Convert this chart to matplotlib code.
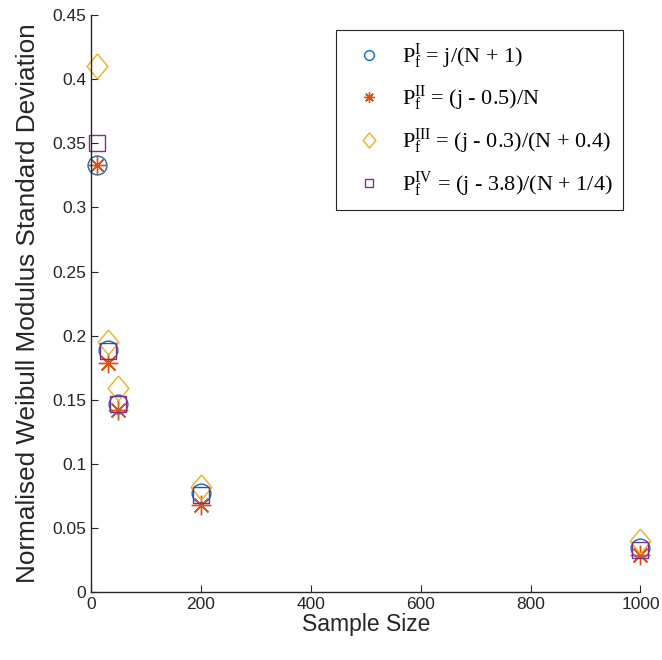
import numpy as np
import matplotlib
matplotlib.use('Agg')
from matplotlib import pyplot as plt

plt.rcParams['font.family'] = ['Liberation Sans', 'DejaVu Sans']
plt.rcParams['mathtext.fontset'] = 'custom'
plt.rcParams['mathtext.rm'] = 'Liberation Serif'
plt.rcParams['mathtext.it'] = 'Liberation Serif:italic'

# sample sizes and normalised std of the Weibull modulus per estimator
sample_size = [10, 30, 50, 200, 1000]
std_I = [0.333, 0.189, 0.147, 0.077, 0.034]
std_II = [0.333, 0.179, 0.142, 0.068, 0.029]
std_III = [0.410, 0.195, 0.159, 0.082, 0.040]
std_IV = [0.350, 0.188, 0.147, 0.076, 0.033]

labels = [r'$\mathrm{P_f^{I}}$ = j/(N + 1)',
          r'$\mathrm{P_f^{II}}$ = (j - 0.5)/N',
          r'$\mathrm{P_f^{III}}$ = (j - 0.3)/(N + 0.4)',
          r'$\mathrm{P_f^{IV}}$ = (j - 3.8)/(N + 1/4)']

# matlab style diamond (a bit taller than wide)
diamond = [(0, 1), (0.83, 0), (0, -1), (-0.83, 0), (0, 1)]

fig = plt.figure(figsize=(6.62, 6.60), dpi=100)
ax = fig.add_axes([0.1375, 0.103, 0.83, 0.874])

ax.plot(sample_size, std_I, 'o', mfc='none', mec='#0072BD', ms=13.5, mew=1.0, label=labels[0], clip_on=False)
ax.plot(sample_size, std_II, marker=(8, 2, 0), ls='none', color='#D95319', ms=14, mew=1.0, label=labels[1], clip_on=False)
ax.plot(sample_size, std_III, marker=diamond, ls='none', mfc='none', mec='#EDB120', ms=18, mew=1.0, label=labels[2], clip_on=False)
ax.plot(sample_size, std_IV, 's', mfc='none', mec='#7E2F8E', ms=11, mew=1.0, label=labels[3], clip_on=False)

ax.set_xlim(0, 1000)
ax.set_ylim(0, 0.45)
ax.set_xticks([0, 200, 400, 600, 800, 1000])
ax.set_yticks(np.arange(0, 0.451, 0.05))
ax.set_yticklabels(['0', '0.05', '0.1', '0.15', '0.2', '0.25', '0.3', '0.35', '0.4', '0.45'])
ax.spines['top'].set_visible(False)
ax.spines['right'].set_visible(False)
for s in ['left', 'bottom']:
    ax.spines[s].set_color('#262626')
    ax.spines[s].set_linewidth(1.0)
ax.tick_params(direction='in', length=5, colors='#262626', labelsize=12.5, labelcolor='#262626')
ax.patch.set_alpha(0)

ax.set_xlabel('Sample Size', fontsize=16.5, color='#262626', labelpad=1)
ax.set_ylabel('Normalised Weibull Modulus Standard Deviation', fontsize=18.8, color='#262626', labelpad=9)

leg = ax.legend(loc='upper left', bbox_to_anchor=(336 / 662, 1 - 30 / 660), bbox_transform=fig.transFigure,
                borderaxespad=0, prop={'family': 'Liberation Serif', 'size': 16},
                frameon=True, fancybox=False, edgecolor='#262626', framealpha=1, labelspacing=0.6,
                borderpad=0.5, handletextpad=0.45)
leg.get_frame().set_linewidth(0.8)
for h, ms in zip(leg.legend_handles, [7, 7.5, 11, 6]):
    h.set_markersize(ms)

plt.savefig('out.png', dpi=100)
